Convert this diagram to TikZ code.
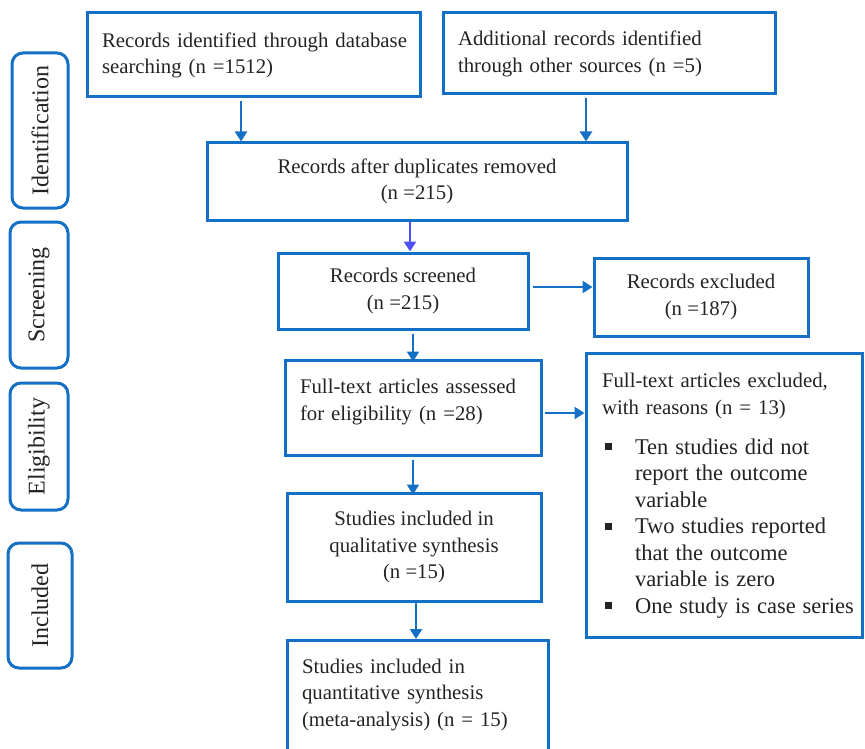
\documentclass[tikz,border=0pt]{standalone}
\usepackage{fontspec}
\setmainfont{Liberation Serif}
\usetikzlibrary{arrows.meta}
\definecolor{bblue}{RGB}{20,112,196}
\definecolor{vblue}{RGB}{80,80,245}
\definecolor{txt}{RGB}{35,35,35}
\newcommand{\ls}[1]{\begin{tabular}{@{}l@{}}#1\end{tabular}}
\newcommand{\bul}{\makebox[33pt][l]{\hspace{3pt}\raisebox{4pt}{\rule{7pt}{7pt}}}}
\newcommand{\ind}{\hspace*{33pt}}
\begin{document}
\begin{tikzpicture}[x=1pt,y=-1pt,
  box/.style={draw=bblue, line width=3pt, inner xsep=15pt, inner ysep=0pt, text=txt,
    font=\fontsize{20.8}{26.5}\selectfont},
  lbox/.style={box, align=left},
  cbox/.style={box, align=center},
  stage/.style={draw=bblue, line width=3pt, rounded corners=11pt, rotate=90, text=txt,
    inner sep=0pt, font=\fontsize{24}{28}\selectfont},
  arr/.style={draw=bblue, line width=2.8pt, -{Triangle[width=12pt,length=10pt]}},
]
\useasboundingbox (0,0) rectangle (865,749);

% stage labels
\node[stage, minimum width=155pt, minimum height=56pt] (s1) at (40,130.5) {Identification};
\node[stage, minimum width=146pt, minimum height=58pt] (s2) at (39,295) {Screening};
\node[stage, minimum width=127pt, minimum height=58pt] (s3) at (39,446.5) {Eligibility};
\node[stage, minimum width=125pt, minimum height=64pt] (s4) at (40,605.5) {Included};

% boxes
\node[lbox, minimum width=333pt, minimum height=84pt, text width=303pt] (A) at (253.5,55)
  {\ls{Records identified through database\\searching (n =1512)}};
\node[lbox, minimum width=332pt, minimum height=81pt, text width=302pt] (B) at (609,53.5)
  {\ls{Additional records identified\\through other sources (n =5)}};
\node[cbox, minimum width=420pt, minimum height=77pt] (C) at (417,181.5)
  {Records after duplicates removed\\(n =215)};
\node[cbox, minimum width=250pt, minimum height=76pt] (D) at (403,291)
  {Records screened\\(n =215)};
\node[cbox, minimum width=214pt, minimum height=78pt] (E) at (701,297)
  {Records excluded\\(n =187)};
\node[lbox, minimum width=256pt, minimum height=95pt, text width=226pt] (F) at (413,407.5)
  {\ls{Full-text articles assessed\\for eligibility (n =28)}\par\vspace{12pt}};
\node[box, align=left, minimum width=276pt, minimum height=284pt, text width=244pt, inner xsep=16pt] (G) at (724,495)
  {{\fontsize{20.8}{27}\selectfont\ls{Full-text articles excluded,\\with reasons (n = 13)}}\par\vspace{12pt}
   {\fontsize{22.5}{26.5}\selectfont\ls{\bul Ten studies did not\\
   \ind report the outcome\\
   \ind variable\\
   \bul Two studies reported\\
   \ind that the outcome\\
   \ind variable is zero\\
   \bul One study is case series}}};
\node[cbox, minimum width=254pt, minimum height=108pt] (H) at (414,547)
  {Studies included in\\qualitative synthesis\\(n =15)};
\node[lbox, anchor=north, minimum width=261pt, text width=231pt, inner ysep=14pt] (I) at (417.5,639)
  {\ls{Studies included in\\quantitative synthesis\\(meta-analysis) (n = 15)\rule[-45pt]{0pt}{0pt}}};

% connectors
\draw[arr] ([xshift=-12.5pt,yshift=-3pt]A.south) -- ([xshift=-12.5pt]A.south |- C.north);
\draw[arr] ([xshift=-23pt,yshift=-3pt]B.south) -- ([xshift=-23pt]B.south |- C.north);
\draw[arr, draw=vblue] ([xshift=-7pt]C.south) -- ([xshift=-7pt]C.south |- D.north);
\draw[arr] ([yshift=4pt,xshift=3pt]D.east) -- ([yshift=4pt]D.east -| E.west);
\draw[arr] ([xshift=10pt,yshift=-3pt]D.south) -- ([xshift=10pt,yshift=-3pt]D.south |- F.north);
\draw[arr] ([yshift=-5.5pt,xshift=2pt]F.east) -- ([yshift=-5.5pt]F.east -| G.west);
\draw[arr] ([yshift=-3pt]F.south) -- ([yshift=-3pt]F.south |- H.north);
\draw[arr] ([xshift=2pt]H.south) -- ([xshift=2pt]H.south |- I.north);
\end{tikzpicture}
\end{document}
